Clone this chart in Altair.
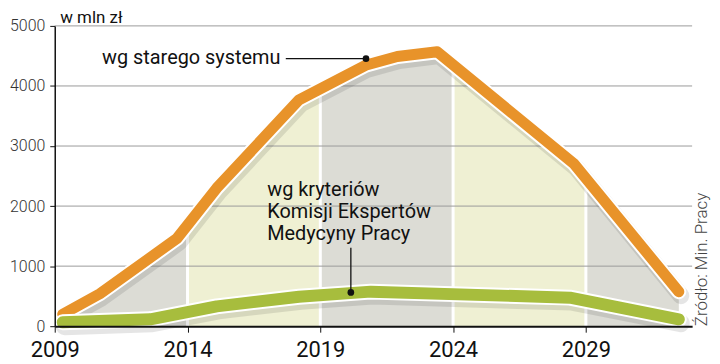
import altair as alt
import numpy as np
import pandas as pd

# ---- data ----
orange_years = [2009.3, 2010.7, 2013.6, 2015.1, 2018.2, 2020.7, 2021.9, 2023.4, 2028.55, 2032.5]
orange_values = [200, 540, 1460, 2300, 3770, 4344, 4490, 4570, 2705, 574]
green_years = [2009.3, 2012.6, 2015.1, 2018.2, 2020.9, 2028.4, 2032.5]
green_values = [65, 115, 330, 490, 575, 475, 115]

band_edges = [2009, 2014, 2019, 2024, 2029, 2033]
band_kind = ["gray", "yellow", "gray", "yellow", "gray"]
x_ticks = [2009, 2014, 2019, 2024, 2029]
y_ticks = [0, 1000, 2000, 3000, 4000, 5000]

orange_label = "wg starego systemu"
green_label = ["wg kryteriów", "Komisji Ekspertów", "Medycyny Pracy"]
source = "Źródło: Min. Pracy"
unit = "w mln zł"

ORANGE = "#e8932a"
GREEN = "#a7bd3d"
FONT = "Roboto"

# ---- build tables ----
orange = pd.DataFrame({"year": orange_years, "value": orange_values, "s": "orange"})
green = pd.DataFrame({"year": green_years, "value": green_values, "s": "green"})

rows = []
x0, x1 = orange_years[0], orange_years[-1]
for i, (lo, hi) in enumerate(zip(band_edges[:-1], band_edges[1:])):
    lo_c, hi_c = max(lo, x0), min(hi, x1)
    xs = [lo_c] + [y for y in orange_years if lo_c < y < hi_c] + [hi_c]
    for xv in xs:
        rows.append({"band": f"b{i}", "kind": band_kind[i], "year": xv,
                     "value": float(np.interp(xv, orange_years, orange_values))})
bands = pd.DataFrame(rows)

seps = pd.DataFrame({"year": band_edges[1:-1],
                     "value": np.interp(band_edges[1:-1], orange_years, orange_values)})
grid = pd.DataFrame({"v": y_ticks[1:]})

xscale = alt.Scale(domain=[2009, 2033], nice=False, zero=False)
yscale = alt.Scale(domain=[0, 5000], nice=False)

xaxis = alt.Axis(values=x_ticks, format="d", labelFontSize=22, labelColor="#111",
                 labelFont=FONT, labelFlush=False, labelPadding=7, tickSize=6,
                 tickColor="#111", domainColor="#111", domainWidth=2, grid=False,
                 title=None, zindex=1, labelOverlap=False)
yaxis = alt.Axis(values=y_ticks, format="d", labelFontSize=16, labelFontWeight=300,
                 labelColor="#333", labelFont=FONT, labelPadding=5, tickSize=5,
                 tickColor="#111", domainColor="#111", domainWidth=1.5, grid=False,
                 title=unit, titleAngle=0, titleAlign="left", titleBaseline="alphabetic",
                 titleX=5, titleY=-3, titleFontSize=17, titleFontWeight="normal",
                 titleColor="#111", titleFont=FONT, zindex=1)

area = alt.Chart(bands).mark_area(interpolate="linear").encode(
    x=alt.X("year:Q", scale=xscale, axis=xaxis),
    y=alt.Y("value:Q", scale=yscale, axis=yaxis, stack=None),
    color=alt.Color("kind:N", scale=alt.Scale(domain=["gray", "yellow"],
                                              range=["#dcdcd5", "#eff0d3"]), legend=None),
    detail="band:N",
)

sep = alt.Chart(seps).mark_rule(color="white", strokeWidth=3).encode(
    x="year:Q", y=alt.Y("value:Q"), y2=alt.datum(0)
)

gridl = alt.Chart(grid).mark_rule(color="#9a9a9a", strokeWidth=1).encode(y="v:Q")


def line_layers(df, color, w):
    shadow = alt.Chart(df).mark_line(color="#000", opacity=0.10, strokeWidth=w + 6,
                                     strokeCap="round", strokeJoin="round",
                                     xOffset=2, yOffset=4).encode(x="year:Q", y="value:Q")
    halo = alt.Chart(df).mark_line(color="white", strokeWidth=w + 4, strokeCap="round",
                                   strokeJoin="round").encode(x="year:Q", y="value:Q")
    main = alt.Chart(df).mark_line(color=color, strokeWidth=w, strokeCap="round",
                                   strokeJoin="round").encode(x="year:Q", y="value:Q")
    return [shadow, halo, main]


# annotations (data coordinates)
lead_o = pd.DataFrame({"x": [2017.7], "x2": [2020.72], "y": [4454]})
lead_g = pd.DataFrame({"x": [2020.15], "y": [1308], "y2": [563]})
dots = pd.DataFrame({"x": [2020.72, 2020.15], "y": [4454, 563]})
texts = pd.DataFrame({
    "x": [2017.5, 2017.0],
    "y": [4470, 2268],
    "t": [orange_label, "\n".join(green_label)],
    "a": ["right", "left"],
})

lo_rule = alt.Chart(lead_o).mark_rule(color="#111", strokeWidth=1.3).encode(
    x="x:Q", x2="x2:Q", y="y:Q")
lg_rule = alt.Chart(lead_g).mark_rule(color="#111", strokeWidth=1.3).encode(
    x="x:Q", y="y:Q", y2="y2:Q")
dot = alt.Chart(dots).mark_point(filled=True, color="#111", size=45, opacity=1).encode(
    x="x:Q", y="y:Q")
txt_r = alt.Chart(texts[texts.a == "right"]).mark_text(
    align="right", baseline="middle", fontSize=20, font=FONT, color="#111").encode(
    x="x:Q", y="y:Q", text="t:N")
txt_l = alt.Chart(texts[texts.a == "left"]).mark_text(
    align="left", baseline="middle", fontSize=20, font=FONT, color="#111",
    lineBreak="\n", lineHeight=22).encode(
    x="x:Q", y="y:Q", text="t:N")
src = alt.Chart(pd.DataFrame({"t": [source]})).mark_text(
    angle=270, align="left", baseline="middle", fontSize=17, fontWeight=300,
    font=FONT, color="#444").encode(x=alt.value(651), y=alt.value(302), text="t:N")

layers = [area, sep, gridl] + line_layers(orange, ORANGE, 11) + line_layers(green, GREEN, 12) \
    + [lo_rule, lg_rule, dot, txt_r, txt_l, src]

chart = alt.layer(*layers).properties(
    width=641, height=302, autosize="none",
    padding={"left": 47, "top": 17, "right": 20, "bottom": 35},
).configure_view(stroke=None)

chart.save("out.html", embed_options={"renderer": "svg", "actions": False})
